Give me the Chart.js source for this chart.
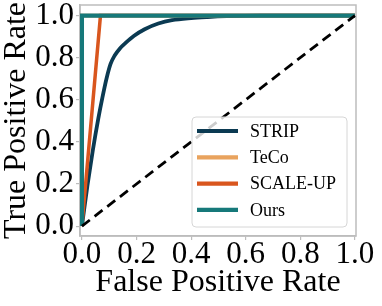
<!DOCTYPE html>
<html>
<head>
<meta charset="utf-8">
<script src="https://cdn.jsdelivr.net/npm/chart.js@4/dist/chart.umd.min.js"></script>
<style>
  html, body { margin: 0; padding: 0; background: #fff; }
  #wrap { width: 382px; height: 306px; }
</style>
</head>
<body>
<div id="wrap"><canvas id="roc" width="382" height="306"></canvas></div>
<script>
const serif = "'Liberation Serif', 'DejaVu Serif', serif";

const seriesNames = ["STRIP", "TeCo", "SCALE-UP", "Ours"];
const seriesColors = ["#0b3a52", "#e9a35e", "#d9561e", "#16797a"];

// STRIP roc curve
const stripFpr = [0, 0.02, 0.04, 0.06, 0.075, 0.09, 0.105, 0.12, 0.14, 0.16, 0.19, 0.23, 0.28, 0.33, 0.4, 0.46, 0.53, 0.65, 1.0];
const stripTpr = [0, 0.19, 0.36, 0.51, 0.61, 0.70, 0.77, 0.81, 0.845, 0.87, 0.903, 0.935, 0.962, 0.978, 0.988, 0.993, 0.997, 1.0, 1.0];

// TeCo sits right under Ours
const tecoFpr = [0, 0, 1];
const tecoTpr = [0, 1, 1];

const scaleUpFpr = [0, 0.068, 1];
const scaleUpTpr = [0, 1, 1];

const oursFpr = [0, 0, 1];
const oursTpr = [0, 1, 1];

const chanceFpr = [0, 1];
const chanceTpr = [0, 1];

const xTicks = [0, 0.2, 0.4, 0.6, 0.8, 1.0];
const yTicks = [0, 0.2, 0.4, 0.6, 0.8, 1.0];

const pts = (xs, ys) => xs.map((x, i) => ({ x: x, y: ys[i] }));

const curves = [
  [stripFpr, stripTpr],
  [tecoFpr, tecoTpr],
  [scaleUpFpr, scaleUpTpr],
  [oursFpr, oursTpr],
];
const widths = [3.8, 3.8, 3.5, 4.2];

const datasets = curves.map((c, i) => ({
  label: seriesNames[i],
  data: pts(c[0], c[1]),
  borderColor: seriesColors[i],
  backgroundColor: seriesColors[i],
  borderWidth: widths[i],
  pointRadius: 0,
  cubicInterpolationMode: i === 0 ? "monotone" : "default",
  order: 4 - i,
}));

datasets.push({
  label: "chance",
  data: pts(chanceFpr, chanceTpr),
  borderColor: "#000",
  borderWidth: 2.8,
  borderDash: [10, 6],
  pointRadius: 0,
  order: 0,
  skipLegend: true,
});

// frame on all four sides
const frame = {
  id: "frame",
  beforeDatasetsDraw(chart) {
    const a = chart.chartArea;
    const ctx = chart.ctx;
    ctx.save();
    ctx.strokeStyle = "#bdbdbd";
    ctx.lineWidth = 1.5;
    ctx.strokeRect(a.left, a.top, a.right - a.left, a.bottom - a.top);
    ctx.restore();
  },
};

// matplotlib-like legend in the lower right, over the lines
const boxLegend = {
  id: "boxLegend",
  afterDatasetsDraw(chart) {
    const ctx = chart.ctx;
    const items = chart.data.datasets.filter((d) => !d.skipLegend);
    const x0 = 192, y0 = 117, w = 155, h = 110, r = 4;
    ctx.save();
    ctx.beginPath();
    ctx.roundRect(x0, y0, w, h, r);
    ctx.fillStyle = "rgba(255,255,255,0.8)";
    ctx.fill();
    ctx.strokeStyle = "#d6d6d6";
    ctx.lineWidth = 1;
    ctx.stroke();
    ctx.font = "18px " + serif;
    ctx.textBaseline = "middle";
    ctx.fillStyle = "#000";
    items.forEach((d, i) => {
      const y = y0 + 14 + i * 26.3;
      ctx.beginPath();
      ctx.moveTo(197, y);
      ctx.lineTo(238, y);
      ctx.strokeStyle = d.borderColor;
      ctx.lineWidth = 4.2;
      ctx.stroke();
      ctx.fillText(d.label, 250, y + 1);
    });
    ctx.restore();
  },
};

const axisCommon = {
  type: "linear",
  grid: { drawOnChartArea: false, drawTicks: true, tickLength: 4, color: "#bdbdbd", lineWidth: 1.2 },
  border: { color: "#bdbdbd", width: 1.5 },
  ticks: {
    color: "#000",
    font: { family: serif, size: 31 },
    callback: (v) => Number(v).toFixed(1),
  },
};

new Chart(document.getElementById("roc"), {
  type: "line",
  data: { datasets: datasets },
  options: {
    responsive: false,
    animation: false,
    layout: { padding: { top: 5, right: 26, left: 0, bottom: 0 } },
    plugins: { legend: { display: false }, tooltip: { enabled: false } },
    scales: {
      x: {
        ...axisCommon,
        min: -0.007,
        max: 1.004,
        afterBuildTicks: (s) => { s.ticks = xTicks.map((v) => ({ value: v })); },
        afterFit: (s) => { s.height = 70; s.paddingLeft = 0; s.paddingRight = 0; },
        ticks: { ...axisCommon.ticks, padding: -4, maxRotation: 0 },
        title: { display: true, text: "False Positive Rate", color: "#000", font: { family: serif, size: 32 }, padding: { top: 0, bottom: 4 } },
      },
      y: {
        ...axisCommon,
        min: -0.047,
        max: 1.05,
        afterBuildTicks: (s) => { s.ticks = yTicks.map((v) => ({ value: v })); },
        afterFit: (s) => { s.width = 80; s.paddingTop = 0; s.paddingBottom = 0; },
        ticks: { ...axisCommon.ticks, padding: 2 },
        title: { display: true, text: "True Positive Rate", color: "#000", font: { family: serif, size: 32 }, padding: { top: -3, bottom: 0 } },
      },
    },
  },
  plugins: [frame, boxLegend],
});
</script>
</body>
</html>
